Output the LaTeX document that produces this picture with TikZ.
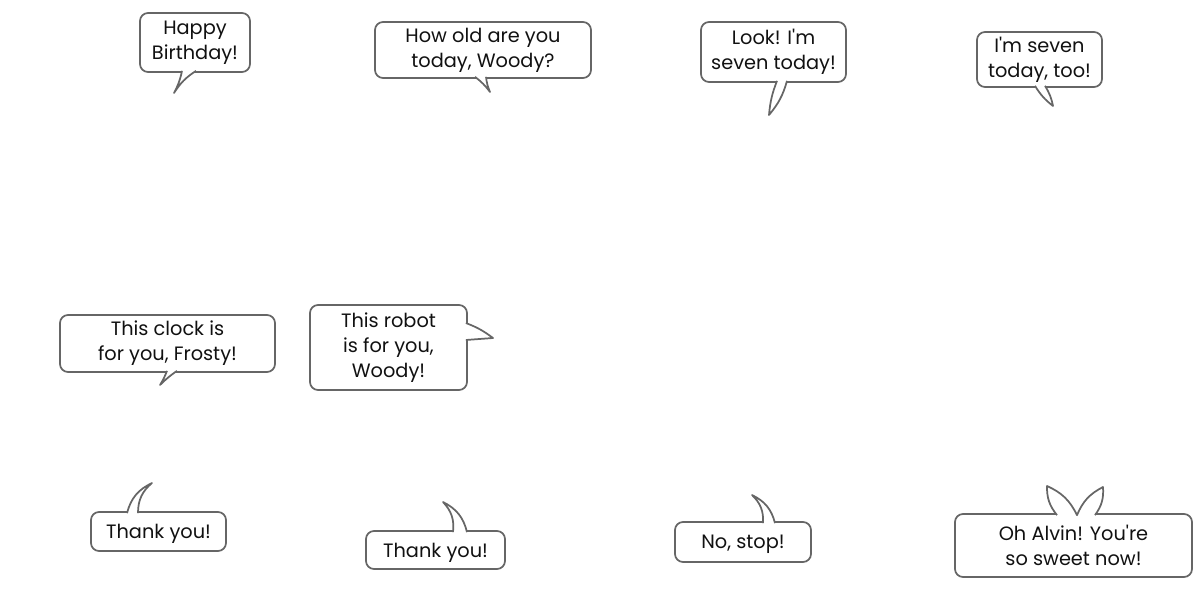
\documentclass[tikz,border=0pt]{standalone}
\usepackage{fontspec}
\setmainfont{Poppins}
\usepackage{tikz}
\usetikzlibrary{calc}

\definecolor{edgegray}{HTML}{666666}
\definecolor{textgray}{HTML}{111111}

\begin{document}
\begin{tikzpicture}[
    x=0.75pt, y=-0.75pt,
    bubble/.style={rectangle, draw=edgegray, line width=1.3pt, rounded corners=6pt, fill=white, align=center, inner sep=0pt, text=textgray, font=\fontsize{14.5}{18.75}\selectfont},
    oneline/.style={text depth=0pt},
    tail/.style={draw=edgegray, line width=1.3pt, fill=white, line join=round}
]
\useasboundingbox (0,0) rectangle (1200,600);

% Top row
\node[bubble, minimum width=110*0.75pt, minimum height=59*0.75pt] (bday) at (195,42.5) {Happy\\Birthday!};
\node[bubble, minimum width=216*0.75pt, minimum height=56*0.75pt] (howold) at (483,50) {How old are you\\today, Woody?};
\node[bubble, minimum width=145*0.75pt, minimum height=60*0.75pt] (look) at (773.5,52) {Look! I\textquotesingle m\\seven today!};
\node[bubble, minimum width=125*0.75pt, minimum height=55*0.75pt] (seven) at (1039.5,59.5) {I\textquotesingle m seven\\today, too!};

% Middle row
\node[bubble, minimum width=215*0.75pt, minimum height=57*0.75pt] (clock) at (167.5,343.5) {This clock is\\for you, Frosty!};
\node[bubble, minimum width=157*0.75pt, minimum height=85*0.75pt] (robot) at (388.5,347.5) {This robot\\is for you,\\Woody!};

% Bottom row
\node[bubble, oneline, minimum width=135*0.75pt, minimum height=39*0.75pt] (thanka) at (158.5,531.5) {Thank you!};
\node[bubble, oneline, minimum width=139*0.75pt, minimum height=38*0.75pt] (thankb) at (435.5,550) {Thank you!};
\node[bubble, oneline, minimum width=136*0.75pt, minimum height=40*0.75pt] (nostop) at (743,542) {No, stop!};
\node[bubble, minimum width=237*0.75pt, minimum height=63*0.75pt] (alvin) at (1073.5,545.5) {Oh Alvin! You\textquotesingle re\\so sweet now!};

% Tail tips
\coordinate (bdaytip) at (174,93);
\coordinate (howoldtip) at (490,92);
\coordinate (looktip) at (769,115);
\coordinate (seventip) at (1053,106);
\coordinate (clocktip) at (160,385);
\coordinate (robottip) at (493,338);
\coordinate (thankatip) at (152,483);
\coordinate (thankbtip) at (443,502);
\coordinate (nostoptip) at (752,495);
\coordinate (alvintipa) at (1047,486);
\coordinate (alvintipb) at (1103,487);

% Tails
\draw[tail] ($(bday.south)+(-13,-2)$) to[bend left=8] (bdaytip) to[bend left=12] ($(bday.south)+(1,-2)$);
\draw[tail] ($(howold.south)+(-8,-2)$) to[bend left=8] (howoldtip) to[bend left=8] ($(howold.south)+(3,-2)$);
\draw[tail] ($(look.south)+(3.5,-2)$) to[bend right=8] (looktip) to[bend right=12] ($(look.south)+(13.5,-2)$);
\draw[tail] ($(seven.south)+(-4.5,-2)$) to[bend right=10] (seventip) to[bend right=10] ($(seven.south)+(5.5,-2)$);
\draw[tail] ($(clock.south)+(-0.5,-2)$) to[bend left=5] (clocktip) to[bend left=5] ($(clock.south)+(9.5,-2)$);
\draw[tail] ($(robot.east)+(-2,-24.5)$) to[bend left=8] (robottip) to ($(robot.east)+(-2,-7.5)$);
\draw[tail] ($(thanka.north)+(-31.5,2)$) to[bend left=25] (thankatip) to[bend right=25] ($(thanka.north)+(-20.5,2)$);
\draw[tail] ($(thankb.north)+(17.5,2)$) to[bend right=25] (thankbtip) to[bend left=25] ($(thankb.north)+(31.5,2)$);
\draw[tail] ($(nostop.north)+(20,2)$) to[bend right=25] (nostoptip) to[bend left=25] ($(nostop.north)+(32,2)$);
\draw[tail] ($(alvin.north)+(-16.5,2)$) to[bend left=20] (alvintipa) to[bend left=20] ($(alvin.north)+(3.5,2)$)
    to[bend left=20] (alvintipb) to[bend left=20] ($(alvin.north)+(21.5,2)$);

\end{tikzpicture}
\end{document}
